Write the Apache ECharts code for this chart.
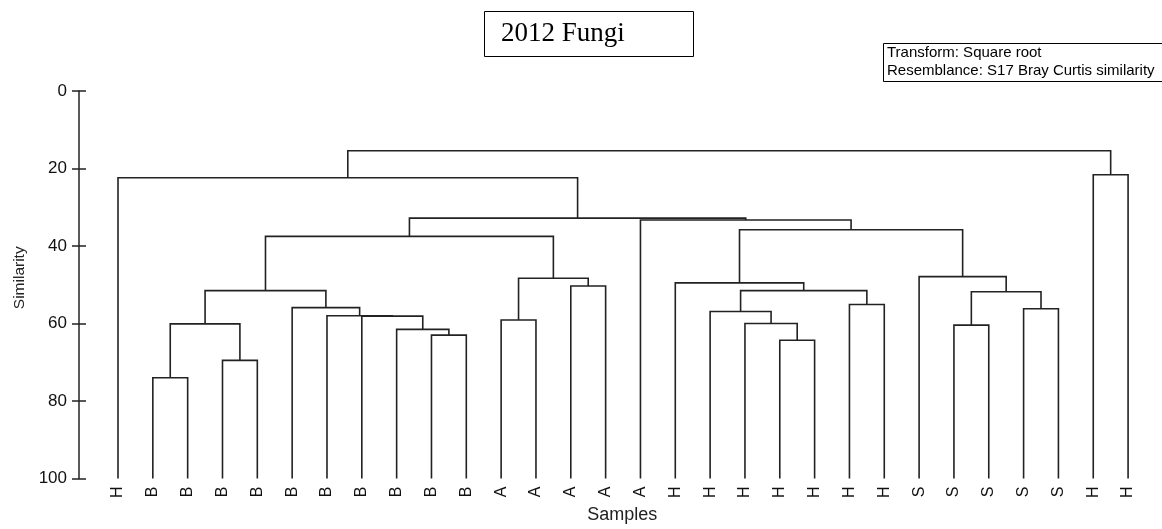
<!DOCTYPE html>
<html>
<head>
<meta charset="utf-8">
<title>2012 Fungi</title>
<script src="https://cdn.jsdelivr.net/npm/echarts@6/dist/echarts.min.js"></script>
<style>
  html, body { margin: 0; padding: 0; background: #fff; }
  #chart { width: 1162px; height: 529px; }
</style>
</head>
<body>
<div id="chart"></div>
<script>
// Leaf samples, left to right along the bottom axis
const leafLabels = ['H','B','B','B','B','B','B','B','B','B','B','A','A','A','A','A',
                    'H','H','H','H','H','H','H','S','S','S','S','S','H','H'];

// Agglomeration steps: node ids 0..29 are leaves, each merge creates node 30 + step index
const mergePairs = [
  [1, 2], [3, 4], [30, 31], [9, 10], [8, 33], [7, 34], [6, 35], [5, 36], [32, 37],
  [11, 12], [13, 14], [39, 40], [38, 41],
  [19, 20], [18, 43], [17, 44], [21, 22], [45, 46], [16, 47],
  [24, 25], [26, 27], [49, 50], [23, 51], [48, 52],
  [15, 53], [42, 54], [0, 55], [28, 29], [56, 57]
];
// Similarity (%) at which each merge happens
const mergeLevels = [
  74.0, 69.5, 60.1, 63.0, 61.5, 58.1, 58.0, 55.9, 51.5,
  59.1, 50.3, 48.3, 37.5,
  64.3, 60.0, 56.9, 55.1, 51.5, 49.5,
  60.4, 56.2, 51.8, 47.9, 35.8,
  33.3, 32.8, 22.4, 21.6, 15.4
];
const similarityTicks = [0, 20, 40, 60, 80, 100];

// Position of every node: leaves sit at their index and at 100% similarity,
// a merged node sits midway between its two children.
const nodeX = leafLabels.map((_, i) => i);
const nodeY = leafLabels.map(() => 100);
const links = [];
mergePairs.forEach(([a, b], k) => {
  const lvl = mergeLevels[k];
  links.push([nodeX[a], nodeX[b], lvl, nodeY[a], nodeY[b]]);
  nodeX.push((nodeX[a] + nodeX[b]) / 2);
  nodeY.push(lvl);
});

const sans = 'Liberation Sans, Arial, sans-serif';
const ink = '#222222';

const chart = echarts.init(document.getElementById('chart'), null, { renderer: 'canvas' });
chart.setOption({
  animation: false,
  backgroundColor: '#ffffff',
  title: [
    {
      text: '2012 Fungi',
      left: 484,
      top: 11,
      padding: [8, 69, 8, 17],
      borderColor: '#000',
      borderWidth: 1,
      textStyle: {
        fontFamily: 'Liberation Serif, Times New Roman, serif',
        fontSize: 27,
        fontWeight: 'normal',
        color: '#000',
        lineHeight: 30
      }
    },
    {
      text: 'Transform: Square root\nResemblance: S17 Bray Curtis similarity',
      left: 883,
      top: 43,
      padding: [1, 40, 2, 4],
      borderColor: '#000',
      borderWidth: 1,
      textStyle: {
        fontFamily: sans,
        fontSize: 15,
        fontWeight: 'normal',
        color: '#000',
        lineHeight: 18
      }
    }
  ],
  grid: { left: 83.17, right: 16.5, top: 91, bottom: 48, containLabel: false },
  xAxis: {
    type: 'value',
    min: -1,
    max: 29.5,
    interval: 1,
    name: 'Samples',
    nameLocation: 'middle',
    nameGap: 27,
    nameTextStyle: { fontFamily: sans, fontSize: 18, color: '#222', padding: [0, 0, 0, 16] },
    axisLine: { show: false, onZero: false },
    axisTick: { show: false },
    splitLine: { show: false },
    axisLabel: {
      rotate: 90,
      margin: 8,
      fontFamily: sans,
      fontSize: 16,
      color: '#111',
      formatter: v => (Number.isInteger(v) && v >= 0 && v < leafLabels.length) ? leafLabels[v] : ''
    }
  },
  yAxis: [
    {
      type: 'value',
      position: 'left',
      offset: 4.17,
      inverse: true,
      min: similarityTicks[0],
      max: similarityTicks[similarityTicks.length - 1],
      interval: similarityTicks[1] - similarityTicks[0],
      name: 'Similarity',
      nameLocation: 'middle',
      nameGap: 51,
      nameTextStyle: { fontFamily: sans, fontSize: 15.5, color: '#222', padding: [0, 0, 0, 14] },
      axisLine: { show: true, onZero: false, lineStyle: { color: ink, width: 1.5 } },
      axisTick: { show: true, inside: false, length: 7, lineStyle: { color: ink, width: 1.5 } },
      axisLabel: { fontFamily: sans, fontSize: 17, color: '#111', margin: 12 },
      splitLine: { show: false }
    },
    {
      type: 'value',
      position: 'left',
      offset: 4.17,
      inverse: true,
      min: similarityTicks[0],
      max: similarityTicks[similarityTicks.length - 1],
      interval: similarityTicks[1] - similarityTicks[0],
      axisLine: { show: false, onZero: false },
      axisTick: { show: true, inside: true, length: 7, lineStyle: { color: ink, width: 1.5 } },
      axisLabel: { show: false },
      splitLine: { show: false }
    }
  ],
  series: [{
    type: 'custom',
    name: 'dendrogram',
    xAxisIndex: 0,
    yAxisIndex: 0,
    encode: { x: [0, 1], y: [2, 3, 4] },
    data: links,
    renderItem: (params, api) => {
      const xl = api.value(0), xr = api.value(1), lvl = api.value(2);
      const yl = api.value(3), yr = api.value(4);
      const pts = [
        api.coord([xl, yl]),
        api.coord([xl, lvl]),
        api.coord([xr, lvl]),
        api.coord([xr, yr])
      ];
      return {
        type: 'polyline',
        shape: { points: pts },
        style: { stroke: ink, lineWidth: 1.6, fill: null }
      };
    }
  }]
});
</script>
</body>
</html>
